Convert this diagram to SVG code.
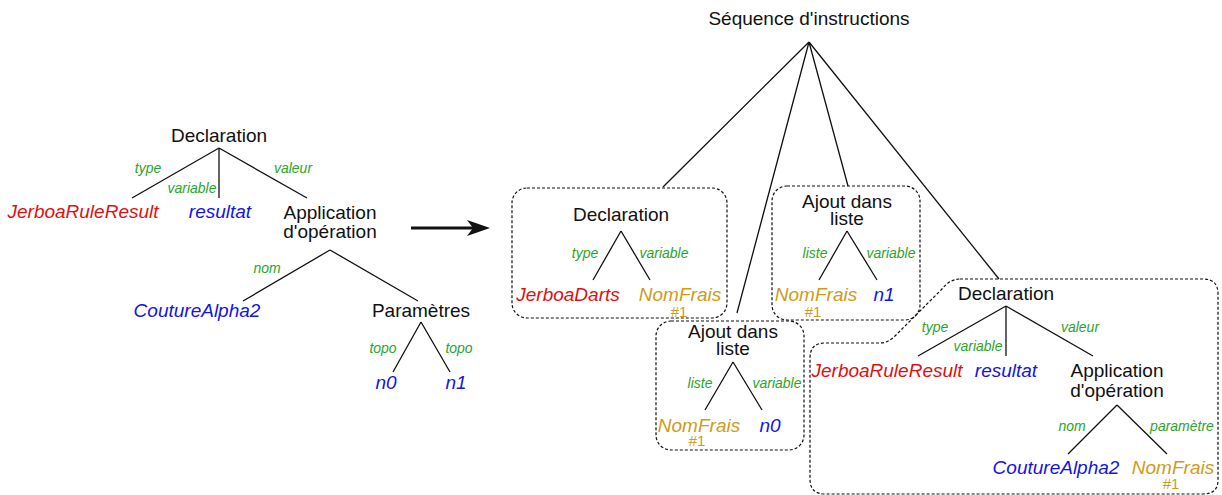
<svg xmlns="http://www.w3.org/2000/svg" width="1222" height="495" viewBox="0 0 1222 495">
<style>
text{font-family:"Liberation Sans",Arial,sans-serif;text-anchor:middle}
.k{font-size:19px;fill:#111}
.r{font-size:19px;font-style:italic;fill:#e01010}
.b{font-size:19px;font-style:italic;fill:#1414e6}
.o{font-size:19px;font-style:italic;fill:#d09b18}
.h{font-size:15px;font-style:normal;fill:#d09b18}
.g{font-size:14px;font-style:italic;fill:#2aa52a}
.e{stroke:#111;stroke-width:1.3;fill:none}
.box{fill:none;stroke:#111;stroke-width:1.2;stroke-dasharray:3 2}
</style>
<rect width="1222" height="495" fill="#fff"/>
<g id="connectors">
  <path class="e" d="M219 148L132 198M219 148L219 198M219 148L307 198"/>
  <path class="e" d="M330 250L243 301M330 250L418 301"/>
  <path class="e" d="M421 322L393 372M421 322L450 372"/>
  <path class="e" d="M809 42L663 187M809 42L737 313M809 42L848 186M809 42L999 279"/>
  <path class="e" d="M621 231L593 280M621 231L650 280"/>
  <path class="e" d="M847 231L819 280M847 231L877 280"/>
  <path class="e" d="M733 362L705 410M733 362L762 410"/>
  <path class="e" d="M1006 306L918 356M1006 306L1006 356M1006 306L1093 356"/>
  <path class="e" d="M1117 405L1068 454M1117 405L1167 454"/>
  <line x1="411" y1="228" x2="476" y2="228" stroke="#111" stroke-width="3"/>
  <path d="M490 228L467 220L473 228L467 236Z" fill="#111"/>
  <text class="g" x="148" y="173">type</text>
  <text class="g" x="192" y="193">variable</text>
  <text class="g" x="293" y="173">valeur</text>
  <text class="g" x="267" y="273">nom</text>
  <text class="g" x="383" y="353">topo</text>
  <text class="g" x="459" y="353">topo</text>
  <text class="g" x="585" y="258">type</text>
  <text class="g" x="664" y="258">variable</text>
  <text class="g" x="815" y="258">liste</text>
  <text class="g" x="891" y="258">variable</text>
  <text class="g" x="700" y="388">liste</text>
  <text class="g" x="777" y="388">variable</text>
  <text class="g" x="935" y="332">type</text>
  <text class="g" x="978" y="351">variable</text>
  <text class="g" x="1080" y="332">valeur</text>
  <text class="g" x="1072" y="431">nom</text>
  <text class="g" x="1182" y="431">paramètre</text>
</g>
<g id="l-decl"><text class="k" x="219" y="142">Declaration</text></g>
<g id="l-type"><text class="r" x="83" y="218">JerboaRuleResult</text></g>
<g id="l-var"><text class="b" x="220" y="218">resultat</text></g>
<g id="l-app"><text class="k"><tspan x="330" y="219">Application</tspan><tspan x="330" y="238">d'opération</tspan></text></g>
<g id="l-nom"><text class="b" x="197" y="317">CoutureAlpha2</text></g>
<g id="l-param"><text class="k" x="421" y="317">Paramètres</text></g>
<g id="l-n0"><text class="b" x="386" y="389">n0</text></g>
<g id="l-n1"><text class="b" x="456" y="389">n1</text></g>
<g id="seq"><text class="k" x="809" y="25">Séquence d'instructions</text></g>
<g id="box-decl">
  <rect class="box" x="512" y="188" width="215" height="130" rx="15"/>
  <text class="k" x="621" y="221">Declaration</text>
</g>
<g id="r1-type"><text class="r" x="568" y="301">JerboaDarts</text></g>
<g id="r1-var"><text class="o"><tspan x="680" y="301">NomFrais</tspan><tspan class="h" x="679" y="317">#1</tspan></text></g>
<g id="box-ajout1">
  <rect class="box" x="772" y="186" width="148" height="134" rx="15"/>
  <text class="k"><tspan x="847" y="208">Ajout dans</tspan><tspan x="847" y="225">liste</tspan></text>
</g>
<g id="r2-liste"><text class="o"><tspan x="816" y="301">NomFrais</tspan><tspan class="h" x="813" y="317">#1</tspan></text></g>
<g id="r2-var"><text class="b" x="884" y="301">n1</text></g>
<g id="box-ajout0">
  <rect class="box" x="656" y="321" width="148" height="129" rx="15"/>
  <text class="k"><tspan x="733" y="338">Ajout dans</tspan><tspan x="733" y="355">liste</tspan></text>
</g>
<g id="r3-liste"><text class="o"><tspan x="699" y="432">NomFrais</tspan><tspan class="h" x="697" y="446">#1</tspan></text></g>
<g id="r3-var"><text class="b" x="770" y="432">n0</text></g>
<g id="box-decl2">
  <path class="box" d="M960 279L1203 279Q1218 279 1218 294L1218 480Q1218 494 1203 494L825 494Q810 494 810 479L810 358Q810 343 825 343L880 343Q888 343 895 336L942 289Q950 279 960 279Z"/>
  <text class="k" x="1006" y="300">Declaration</text>
</g>
<g id="r4-type"><text class="r" x="887" y="377">JerboaRuleResult</text></g>
<g id="r4-var"><text class="b" x="1006" y="377">resultat</text></g>
<g id="r4-app"><text class="k"><tspan x="1117" y="377">Application</tspan><tspan x="1117" y="397">d'opération</tspan></text></g>
<g id="r4-nom"><text class="b" x="1056" y="474">CoutureAlpha2</text></g>
<g id="r4-param"><text class="o"><tspan x="1173" y="474">NomFrais</tspan><tspan class="h" x="1171" y="489">#1</tspan></text></g>
</svg>
